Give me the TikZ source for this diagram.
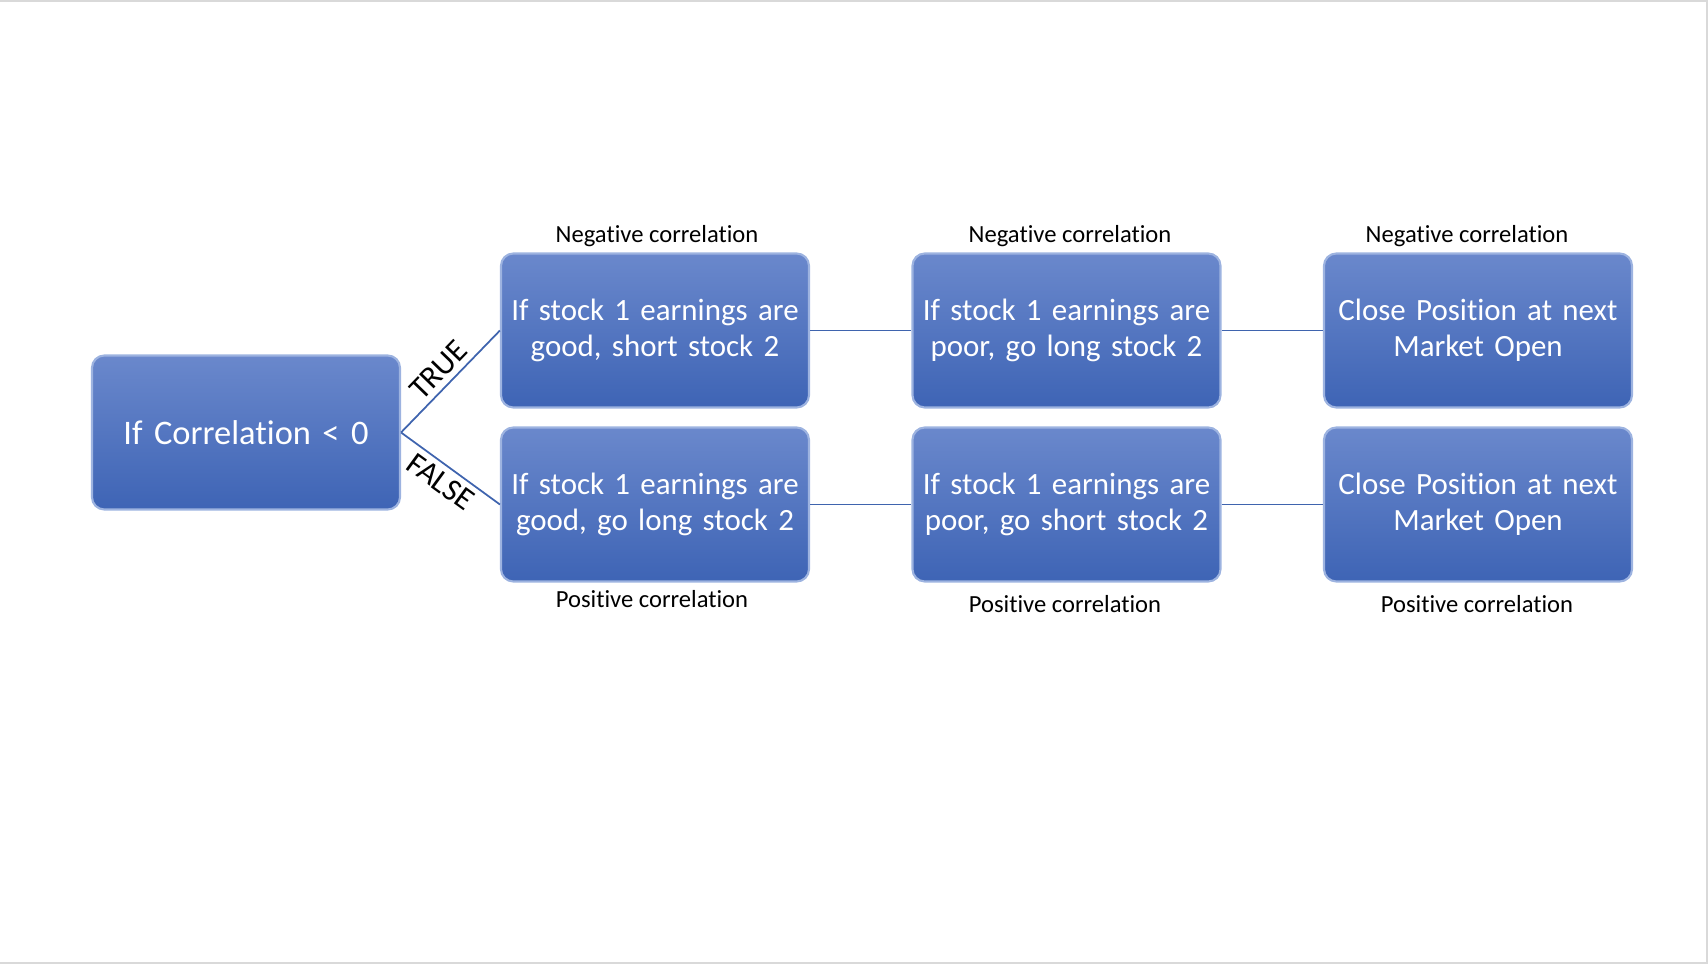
\documentclass[tikz,border=0pt]{standalone}
\usepackage{fontspec}
\setmainfont{Carlito}[Ligatures=NoCommon]
\definecolor{boxtop}{HTML}{6A88CC}
\definecolor{boxbot}{HTML}{3E64B5}
\definecolor{boxedge}{HTML}{9DB3E0}
\definecolor{linkblue}{HTML}{3F64AE}
\definecolor{frame}{HTML}{D9D9D9}
\tikzset{
  stepbox/.style={rectangle, rounded corners=3.5pt, top color=boxtop, bottom color=boxbot,
    draw=boxedge, line width=0.6pt, minimum width=3.08cm, minimum height=1.54cm, inner sep=0pt,
    text width=3.08cm, align=center, text=white, font=\fontsize{8.8}{10.3}\selectfont},
  corr/.style={font=\fontsize{7}{8.4}\selectfont},
  link/.style={draw=linkblue, line width=0.5pt},
  branch/.style={font=\fontsize{9}{10.8}\selectfont, sloped, inner sep=1.5pt}
}
\begin{document}
\begin{tikzpicture}
  \useasboundingbox (0,0) rectangle (17.08,9.64);
  \fill[frame] (0,9.62) rectangle (17.08,9.64);
  \fill[frame] (17.06,0) rectangle (17.08,9.64);
  \fill[frame] (0,0) rectangle (17.08,0.02);

  \node[stepbox, font=\fontsize{9.8}{11.5}\selectfont] (corr) at (2.46, 5.315) {If Correlation {<} 0};

  \node[stepbox] (goodshort) at (6.55, 6.335) {If stock 1 earnings are\\good, short stock 2};
  \node[stepbox] (poorlong) at (10.665, 6.335) {If stock 1 earnings are\\poor, go long stock 2};
  \node[stepbox] (closeneg) at (14.78, 6.335) {Close Position at next\\Market Open};

  \node[stepbox] (goodlong) at (6.55, 4.595) {If stock 1 earnings are\\good, go long stock 2};
  \node[stepbox] (poorshort) at (10.665, 4.595) {If stock 1 earnings are\\poor, go short stock 2};
  \node[stepbox] (closepos) at (14.78, 4.595) {Close Position at next\\Market Open};

  \node[corr] (neg1) at (6.57, 7.28) {Negative correlation};
  \node[corr] (neg2) at (10.70, 7.28) {Negative correlation};
  \node[corr] (neg3) at (14.67, 7.28) {Negative correlation};
  \node[corr] (pos1) at (6.52, 3.65) {Positive correlation};
  \node[corr] (pos2) at (10.65, 3.60) {Positive correlation};
  \node[corr] (pos3) at (14.77, 3.60) {Positive correlation};

  \draw[link] (corr.east) to node[branch, above]{TRUE} (goodshort.west);
  \draw[link] (corr.east) to node[branch, below]{FALSE} (goodlong.west);
  \draw[link] (goodshort) -- (poorlong);
  \draw[link] (poorlong) -- (closeneg);
  \draw[link] (goodlong) -- (poorshort);
  \draw[link] (poorshort) -- (closepos);
\end{tikzpicture}
\end{document}
